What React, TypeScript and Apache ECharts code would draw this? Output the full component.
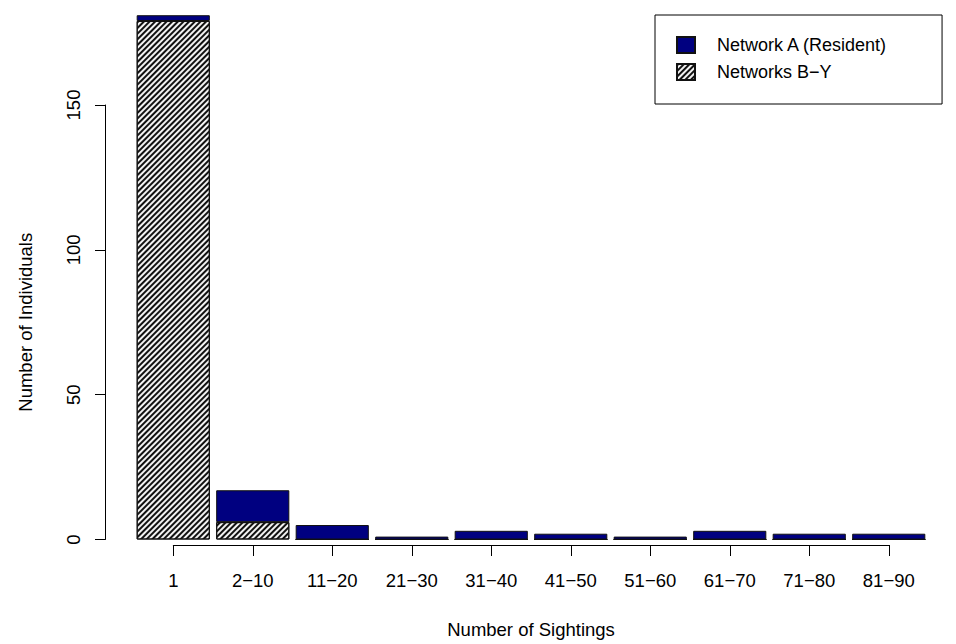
import React, { useEffect, useRef } from "react";
import * as echarts from "echarts";

// Sighting-frequency classes and counts of individuals per network group
const categories = ["1", "2\u221210", "11\u221220", "21\u221230", "31\u221240", "41\u221250", "51\u221260", "61\u221270", "71\u221280", "81\u221290"];
const networkA = [2, 11, 5, 1, 3, 2, 1, 3, 2, 2];
const networksBY = [179, 6, 0, 0, 0, 0, 0, 0, 0, 0];
const seriesNames = ["Network A (Resident)", "Networks B\u2212Y"];
const yMin = 0;
const yMax = 150;
const yInterval = 50;

const FONT = "'Liberation Sans', Arial, Helvetica, sans-serif";
const FS = 18.5;

export default function App() {
  const ref = useRef<HTMLDivElement>(null);

  useEffect(() => {
    if (!ref.current) return;
    const chart = echarts.init(ref.current, null, { renderer: "svg" });

    // diagonal "/" shading for the Networks B-Y segments
    const hatch = {
      symbol: "rect",
      symbolSize: 1,
      color: "#111111",
      backgroundColor: "#f2f2f2",
      dashArrayX: [[1, 0]],
      dashArrayY: [2, 2],
      rotation: -Math.PI / 4,
    };

    const lastIdx = categories.length - 1;

    chart.setOption({
      animation: false,
      backgroundColor: "#ffffff",
      textStyle: { fontFamily: FONT, color: "#000" },
      grid: [
        // plotting region for the bars
        { left: 133.5, right: 27.5, top: 105, bottom: 104.5, outerBoundsMode: "none" },
        // region spanning first to last bar centre, used for the x axis line
        { left: 173.3, right: 67.2, top: 105, bottom: 104.5, outerBoundsMode: "none" },
      ],
      legend: {
        orient: "vertical",
        left: 655,
        top: 15,
        padding: [21, 54, 23, 21],
        itemWidth: 18,
        itemHeight: 16,
        itemGap: 9,
        borderColor: "#000",
        borderWidth: 1,
        icon: "rect",
        data: [seriesNames[0], seriesNames[1]],
        textStyle: {
          fontFamily: FONT,
          fontSize: 18,
          lineHeight: 18,
          color: "#000",
          padding: [0, 0, 0, 17],
        },
      },
      xAxis: [
        {
          type: "category",
          gridIndex: 0,
          data: categories,
          show: false,
        },
        {
          type: "value",
          gridIndex: 1,
          min: 0,
          max: lastIdx,
          interval: 1,
          offset: 5.5,
          position: "bottom",
          splitLine: { show: false },
          axisLine: { show: true, onZero: false, lineStyle: { color: "#000", width: 1 } },
          axisTick: { show: true, length: 11, lineStyle: { color: "#000", width: 1 } },
          axisLabel: {
            margin: 26,
            fontSize: FS,
            fontFamily: FONT,
            color: "#000",
            formatter: (v: number) => categories[v] ?? "",
          },
          name: "Number of Sightings",
          nameLocation: "middle",
          nameGap: 75,
          nameTextStyle: { fontSize: FS, fontFamily: FONT, color: "#000" },
        },
      ],
      yAxis: [
        {
          type: "value",
          gridIndex: 0,
          min: yMin,
          max: yMax,
          interval: yInterval,
          offset: 28.5,
          splitLine: { show: false },
          axisLine: { show: true, lineStyle: { color: "#000", width: 1 } },
          axisTick: { show: true, length: 10, lineStyle: { color: "#000", width: 1 } },
          axisLabel: {
            rotate: 90,
            margin: 22,
            fontSize: FS,
            fontFamily: FONT,
            color: "#000",
          },
          name: "Number of Individuals",
          nameLocation: "middle",
          nameGap: 70,
          nameTextStyle: { fontSize: FS, fontFamily: FONT, color: "#000" },
        },
        {
          type: "value",
          gridIndex: 1,
          min: yMin,
          max: yMax,
          show: false,
        },
      ],
      series: [
        {
          name: seriesNames[1],
          type: "bar",
          stack: "total",
          xAxisIndex: 0,
          yAxisIndex: 0,
          data: networksBY,
          barCategoryGap: "8%",
          clip: false,
          itemStyle: {
            color: "#f2f2f2",
            borderColor: "#111",
            borderWidth: 1,
            decal: hatch,
          },
        },
        {
          name: seriesNames[0],
          type: "bar",
          stack: "total",
          xAxisIndex: 0,
          yAxisIndex: 0,
          data: networkA,
          barCategoryGap: "8%",
          clip: false,
          itemStyle: {
            color: "#000080",
            borderColor: "#111",
            borderWidth: 1,
          },
        },
      ],
    });

    return () => chart.dispose();
  }, []);

  return (
    <div
      ref={ref}
      style={{ position: "fixed", left: 0, top: 0, width: 956, height: 644 }}
    />
  );
}
